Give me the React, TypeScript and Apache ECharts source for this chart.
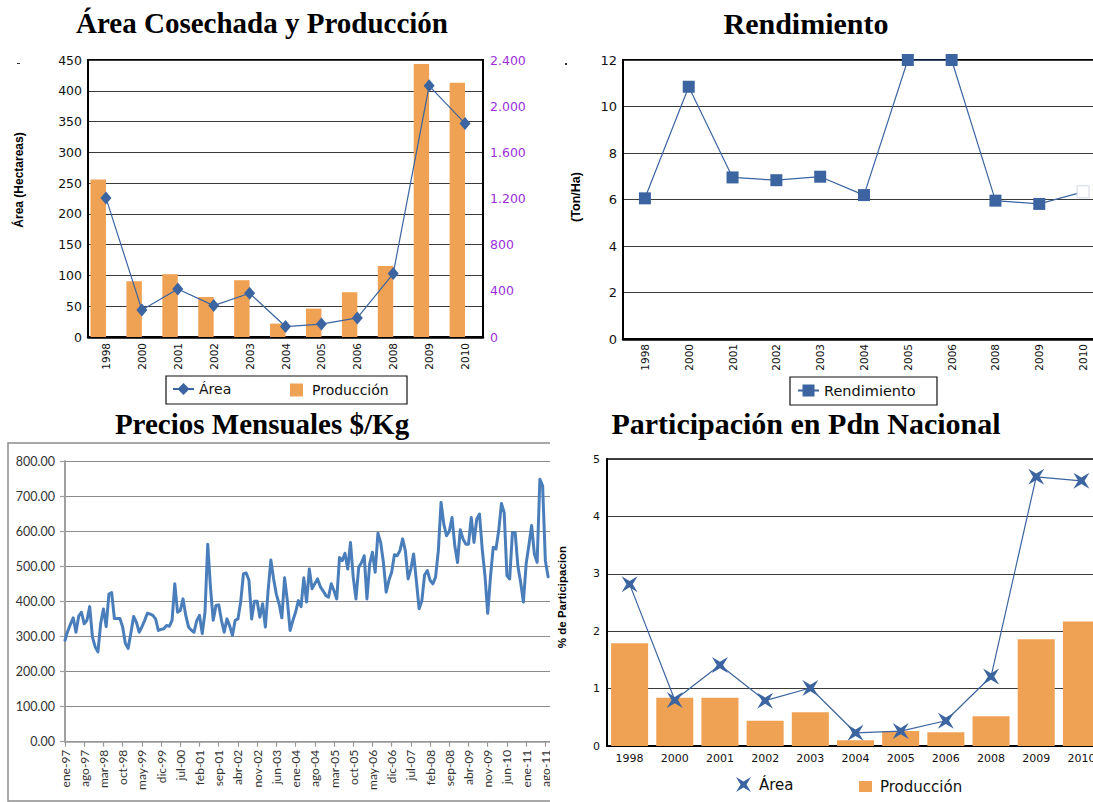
import React, { useEffect, useRef } from 'react';
import * as echarts from 'echarts';

// ---------- data ----------
const years = ['1998', '2000', '2001', '2002', '2003', '2004', '2005', '2006', '2008', '2009', '2010'];
const areaHa = [226, 44, 78, 51, 71, 17, 21, 31, 103, 408, 347];
const produccionTon = [1365, 483, 544, 347, 492, 116, 246, 388, 616, 2365, 2203];
const rendimientoTonHa = [6.05, 10.85, 6.95, 6.83, 6.98, 6.19, 12, 12, 5.95, 5.81, 6.33];
const participacionArea = [2.82, 0.8, 1.41, 0.79, 1.01, 0.23, 0.26, 0.44, 1.21, 4.69, 4.62];
const participacionProduccion = [1.79, 0.84, 0.84, 0.44, 0.59, 0.1, 0.26, 0.24, 0.52, 1.86, 2.17];

const monthNames = ['ene', 'feb', 'mar', 'abr', 'may', 'jun', 'jul', 'ago', 'sep', 'oct', 'nov', 'dic'];
const firstYear = 1997;
const preciosMensuales = [
  289, 315, 335, 353, 312, 358, 369, 336, 346, 385,
  298, 270, 256, 337, 378, 328, 421, 425, 351, 351,
  351, 327, 280, 266, 310, 357, 341, 312, 327, 345,
  366, 364, 360, 350, 317, 320, 322, 331, 329, 346,
  450, 369, 374, 407, 360, 327, 318, 312, 345, 360,
  308, 369, 563, 440, 346, 388, 390, 346, 312, 350,
  330, 303, 346, 350, 398, 478, 481, 461, 350, 400,
  400, 355, 393, 327, 431, 518, 464, 420, 393, 353,
  467, 402, 317, 345, 369, 402, 385, 467, 398, 492,
  436, 450, 464, 442, 430, 417, 412, 450, 430, 407,
  525, 516, 537, 492, 568, 469, 407, 497, 510, 530,
  407, 507, 540, 483, 594, 568, 511, 426, 460, 483,
  533, 530, 544, 578, 544, 464, 492, 535, 459, 379,
  402, 475, 488, 460, 450, 469, 544, 682, 620, 587,
  600, 639, 559, 511, 604, 578, 563, 563, 639, 568,
  634, 649, 549, 473, 366, 469, 554, 549, 601, 679,
  653, 473, 464, 596, 596, 500, 454, 398, 507, 560,
  616, 535, 511, 748, 729, 516, 470,
];
const extraMonths = 2;
const monthLabels = Array.from({ length: preciosMensuales.length + extraMonths }, (_, i) =>
  `${monthNames[i % 12]}-${String((firstYear + Math.floor(i / 12)) % 100).padStart(2, '0')}`
);

// ---------- styles ----------
const BLUE = '#3B64A0';
const ORANGE = '#F0A254';
const PRICE_BLUE = '#4A7EBB';
const PURPLE = '#9B30D9';
const SANS = 'DejaVu Sans';
const titleFont = (s: number) => `bold ${s}px "Liberation Serif", "Times New Roman", serif`;
const starPath = 'path://M0,0L10,6L20,0L14,10L20,20L10,14L0,20L6,10Z';

const titleText = (text: string, x: number, y: number, size: number) => ({
  type: 'text', x, y, z: 10,
  style: { text, font: titleFont(size), fill: '#000', align: 'center', verticalAlign: 'middle', textAlign: 'center', textVerticalAlign: 'middle' },
});
const vText = (text: string, x: number, y: number, size: number) => ({
  type: 'text', x, y, rotation: Math.PI / 2, z: 10,
  style: { text, font: `bold ${size}px "Liberation Sans", Arial, sans-serif`, fill: '#000', align: 'center', verticalAlign: 'middle', textAlign: 'center', textVerticalAlign: 'middle' },
});
const legendText = (size: number, padLeft = 0) => ({ fontFamily: SANS, fontSize: size, color: '#111', padding: [0, 0, 0, padLeft] });

function optionTL() {
  return {
    animation: false,
    grid: { left: 88, top: 60, width: 395, height: 277, show: true, borderColor: '#000', borderWidth: 2, backgroundColor: 'transparent', outerBoundsMode: 'none' },
    xAxis: {
      type: 'category', data: years,
      axisLine: { lineStyle: { color: '#000', width: 2.5 } },
      axisTick: { show: false },
      axisLabel: { rotate: 90, interval: 0, margin: 6, fontFamily: SANS, fontSize: 10.5, color: '#111' },
    },
    yAxis: [
      {
        type: 'value', min: 0, max: 450, interval: 50,
        axisLine: { show: true, lineStyle: { color: '#000', width: 2 } },
        axisTick: { show: false },
        axisLabel: { margin: 6, fontFamily: SANS, fontSize: 12.5, color: '#111' },
        splitLine: { lineStyle: { color: '#3a3a3a', width: 1.2 } },
      },
      {
        type: 'value', min: 0, max: 2400, interval: 400, position: 'right',
        axisLine: { show: true, lineStyle: { color: '#000', width: 2 } },
        axisTick: { show: false },
        axisLabel: {
          margin: 7, fontFamily: SANS, fontSize: 12.5, color: PURPLE,
          formatter: (v: number) => (v >= 1000 ? `${Math.floor(v / 1000)}.${String(v % 1000).padStart(3, '0')}` : String(v)),
        },
        splitLine: { show: false },
      },
    ],
    legend: [
      { data: ['Área'], left: 172, top: 382, padding: 0, itemWidth: 21, itemHeight: 15, textStyle: legendText(14) },
      { data: [{ name: 'Producción', icon: 'rect' }], left: 290, top: 383, padding: 0, itemWidth: 13, itemHeight: 13, textStyle: legendText(14, 4) },
    ],
    series: [
      { name: 'Producción', type: 'bar', yAxisIndex: 1, data: produccionTon, barWidth: '43%', barGap: '0%', itemStyle: { color: ORANGE } },
      { name: 'gap', type: 'bar', yAxisIndex: 1, data: years.map(() => '-'), barWidth: '43%', barGap: '0%' },
      {
        name: 'Área', type: 'line', yAxisIndex: 0, data: areaHa, z: 5,
        symbol: 'diamond', symbolSize: [11, 13],
        lineStyle: { color: BLUE, width: 1.2 }, itemStyle: { color: BLUE },
      },
    ],
    graphic: [
      titleText('Área Cosechada y Producción', 262, 23, 29),
      vText('Área (Hectareas)', 19, 180, 12),
      { type: 'rect', shape: { x: 166, y: 376, width: 241, height: 28 }, style: { fill: 'none', stroke: '#111', lineWidth: 1.2 } },
      { type: 'rect', shape: { x: 17, y: 63, width: 3, height: 1 }, style: { fill: '#333' } },
    ],
  };
}

function optionTR() {
  return {
    animation: false,
    grid: { left: 73, top: 60, width: 482, height: 279, show: true, borderColor: '#000', borderWidth: 2, backgroundColor: 'transparent', outerBoundsMode: 'none' },
    xAxis: {
      type: 'category', data: years,
      axisLine: { lineStyle: { color: '#000', width: 2.5 } },
      axisTick: { show: false },
      axisLabel: { rotate: 90, interval: 0, margin: 5, fontFamily: SANS, fontSize: 10.5, color: '#111' },
    },
    yAxis: {
      type: 'value', min: 0, max: 12, interval: 2,
      axisLine: { show: true, lineStyle: { color: '#000', width: 2 } },
      axisTick: { show: false },
      axisLabel: { margin: 6, fontFamily: SANS, fontSize: 13, color: '#111' },
      splitLine: { lineStyle: { color: '#3a3a3a', width: 1.2 } },
    },
    legend: [
      { data: ['Rendimiento'], left: 247, top: 383, padding: 0, itemWidth: 21, itemHeight: 15, textStyle: legendText(14.5) },
    ],
    series: [
      {
        name: 'Rendimiento', type: 'line', z: 5,
        data: rendimientoTonHa.map((v, i) =>
          i === rendimientoTonHa.length - 1 ? { value: v, itemStyle: { color: '#fff', borderColor: '#cfd6e0', borderWidth: 1 } } : v
        ),
        symbol: 'rect', symbolSize: 12,
        lineStyle: { color: BLUE, width: 1.2 }, itemStyle: { color: BLUE },
      },
    ],
    graphic: [
      titleText('Rendimiento', 256, 23.5, 30),
      vText('(Ton/Ha)', 26, 197, 12.5),
      { type: 'rect', shape: { x: 240, y: 377, width: 147, height: 28 }, style: { fill: 'none', stroke: '#111', lineWidth: 1.2 } },
      { type: 'rect', shape: { x: 15, y: 63, width: 2, height: 2 }, style: { fill: '#333' } },
    ],
  };
}

function optionBL() {
  return {
    animation: false,
    grid: { left: 65, top: 61, width: 488.6, height: 280.7, outerBoundsMode: 'none' },
    xAxis: {
      type: 'category', data: monthLabels, boundaryGap: false,
      axisLine: { lineStyle: { color: '#9a9a9a', width: 1.5 } },
      axisTick: { show: true, interval: 6, length: 5, lineStyle: { color: '#9a9a9a', width: 1.2 } },
      axisLabel: { rotate: 90, interval: 6, margin: 8, fontFamily: 'Lato', fontSize: 12, color: '#333' },
    },
    yAxis: {
      type: 'value', min: 0, max: 800, interval: 100,
      axisLine: { show: true, lineStyle: { color: '#a0a0a0', width: 2 } },
      axisTick: { show: true, length: 5, lineStyle: { color: '#a0a0a0', width: 1.2 } },
      axisLabel: { margin: 10, fontFamily: 'Lato', fontSize: 12.5, color: '#333', formatter: (v: number) => v.toFixed(2) },
      splitLine: { lineStyle: { color: '#8c8c8c', width: 1 } },
    },
    series: [
      {
        name: 'Precios', type: 'line', data: preciosMensuales, symbol: 'none',
        lineStyle: { color: PRICE_BLUE, width: 3, join: 'round', cap: 'round' },
      },
    ],
    graphic: [
      titleText('Precios Mensuales $/Kg', 262, 23.5, 29),
      { type: 'rect', shape: { x: 8, y: 43, width: 580, height: 358 }, style: { fill: 'none', stroke: '#8c8c8c', lineWidth: 1.5 } },
    ],
  };
}

function optionBR() {
  return {
    animation: false,
    grid: { left: 57, top: 59, width: 497, height: 287, show: true, borderColor: '#000', borderWidth: 1.5, backgroundColor: 'transparent', outerBoundsMode: 'none' },
    xAxis: {
      type: 'category', data: years,
      axisLine: { lineStyle: { color: '#000', width: 2 } },
      axisTick: { show: false },
      axisLabel: { interval: 0, margin: 7, fontFamily: SANS, fontSize: 11, color: '#111' },
    },
    yAxis: {
      type: 'value', min: 0, max: 5, interval: 1,
      axisLine: { show: true, lineStyle: { color: '#000', width: 2 } },
      axisTick: { show: false },
      axisLabel: { margin: 7, fontFamily: SANS, fontSize: 11, color: '#111' },
      splitLine: { lineStyle: { color: '#3a3a3a', width: 1.2 } },
    },
    legend: [
      { data: [{ name: 'Área', icon: starPath }], left: 186, top: 377, padding: 0, itemWidth: 19, itemHeight: 15, textStyle: legendText(15, 1) },
      { data: [{ name: 'Producción', icon: 'rect' }], left: 309, top: 379, padding: 0, itemWidth: 13, itemHeight: 11, textStyle: legendText(15, 3) },
    ],
    series: [
      { name: 'Producción', type: 'bar', data: participacionProduccion, barWidth: '82%', itemStyle: { color: ORANGE } },
      {
        name: 'Área', type: 'line', data: participacionArea, z: 5,
        symbol: starPath, symbolSize: 16,
        lineStyle: { color: BLUE, width: 1.2 }, itemStyle: { color: BLUE },
      },
    ],
    graphic: [
      titleText('Participación en Pdn Nacional', 256, 23.5, 30),
      vText('% de Participacion', 12, 197, 11.5),
    ],
  };
}

export default function App() {
  const r1 = useRef<HTMLDivElement>(null);
  const r2 = useRef<HTMLDivElement>(null);
  const r3 = useRef<HTMLDivElement>(null);
  const r4 = useRef<HTMLDivElement>(null);

  useEffect(() => {
    const charts: echarts.ECharts[] = [];
    const mk = (el: HTMLDivElement | null, opt: any) => {
      if (!el) return;
      const c = echarts.init(el, null, { renderer: 'svg' });
      c.setOption(opt);
      charts.push(c);
    };
    mk(r1.current, optionTL());
    mk(r2.current, optionTR());
    mk(r3.current, optionBL());
    mk(r4.current, optionBR());
    return () => charts.forEach((c) => c.dispose());
  }, []);

  const panel = (left: number, top: number, w: number, h: number): React.CSSProperties => ({
    position: 'absolute', left, top, width: w, height: h, overflow: 'hidden',
  });

  return (
    <div style={{ position: 'absolute', left: 0, top: 0, width: 1093, height: 802, background: '#fff', overflow: 'hidden' }}>
      <div style={panel(0, 0, 550, 410)}><div ref={r1} style={{ width: 550, height: 410 }} /></div>
      <div style={panel(550, 0, 543, 410)}><div ref={r2} style={{ width: 560, height: 410 }} /></div>
      <div style={panel(0, 400, 550, 402)}><div ref={r3} style={{ width: 600, height: 402 }} /></div>
      <div style={panel(550, 400, 543, 402)}><div ref={r4} style={{ width: 560, height: 402 }} /></div>
    </div>
  );
}
